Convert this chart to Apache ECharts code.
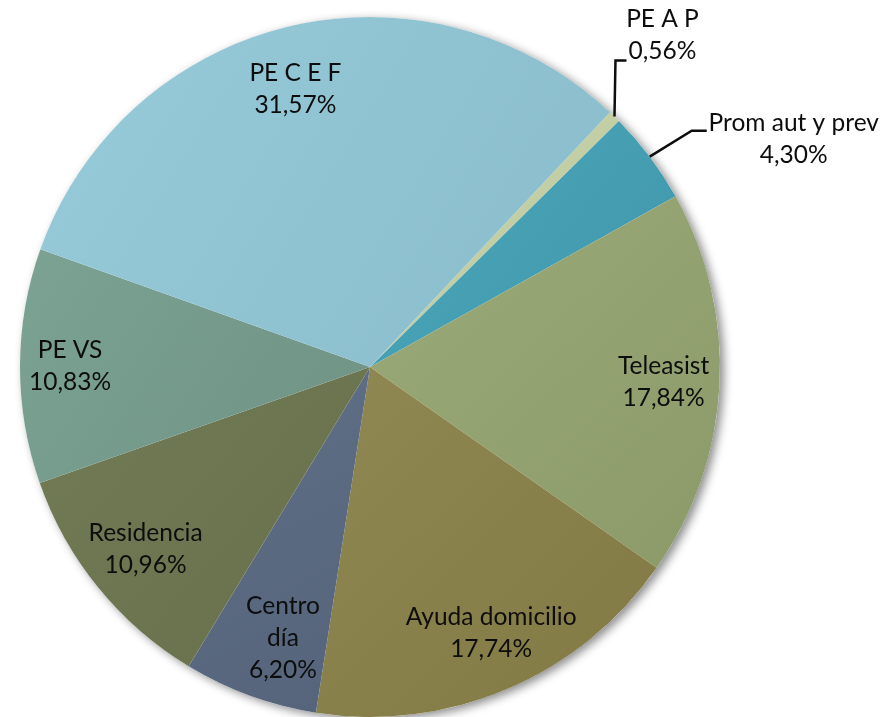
<!DOCTYPE html>
<html><head><meta charset="utf-8">
<script src="https://cdn.jsdelivr.net/npm/echarts@6/dist/echarts.min.js"></script>
<style>html,body{margin:0;padding:0;background:#fff}#c{width:885px;height:717px}</style>
</head><body><div id="c"></div>
<script>
const categories = ['PE A P','Prom aut y prev','Teleasist','Ayuda domicilio','Centro día','Residencia','PE VS','PE C E F'];
const values = [0.56, 4.30, 17.84, 17.74, 6.20, 10.96, 10.83, 31.57];
const labelNames = ['PE A P','Prom aut y prev','Teleasist','Ayuda domicilio','Centro\ndía','Residencia','PE VS','PE C E F'];
const colorsLight = ['#c9d4ab','#4ca8bb','#9aaa78','#8f8853','#5f6f85','#717b56','#7ba293','#97cbda'];
const colorsDark  = ['#bcc89e','#3f96aa','#8b9a68','#827944','#55647a','#67704b','#6f9385','#8abccb'];

const CENTER = [370, 367];
const R = 350;
const START = 46.7;
const labelShift = {2:[5,0], 3:[8,0], 4:[12,0], 6:[-11,0], 7:[-7,3]};

function fmt(v){ return v.toFixed(2).replace('.', ',') + '%'; }
function grad(i){
  return new echarts.graphic.LinearGradient(0,0,1,1,[
    {offset:0,color:colorsLight[i]},{offset:1,color:colorsDark[i]}]);
}

const mainData = categories.map((n,i)=>({name:n, value:values[i], itemStyle:{color:grad(i)}}));
const labelData = categories.map((n,i)=>{
  const d = {name:n, value:values[i]};
  if (i < 2) { d.label = {position:'outside'}; d.labelLine = {show:true}; }
  return d;
});

const chart = echarts.init(document.getElementById('c'), null, {renderer:'canvas'});
chart.setOption({
  animation:false,
  series:[
    {
      type:'pie', silent:true, center:CENTER, radius:R, z:1,
      data:[{value:1, itemStyle:{color:'#ffffff', shadowBlur:10, shadowColor:'rgba(0,0,0,0.45)', shadowOffsetX:4, shadowOffsetY:3}}],
      label:{show:false}, labelLine:{show:false}
    },
    {
      type:'pie', silent:true, center:CENTER, radius:R, startAngle:START, clockwise:true, z:2,
      data: mainData, label:{show:false}, labelLine:{show:false},
      itemStyle:{borderWidth:0}
    },
    {
      type:'pie', silent:true, center:CENTER, radius:[222, R], startAngle:START, clockwise:true, z:3,
      avoidLabelOverlap:false,
      data: labelData,
      itemStyle:{color:'rgba(0,0,0,0)', borderWidth:0},
      label:{
        show:true, position:'inside', color:'#0d0d0d',
        fontFamily:'Lato', fontSize:24.5, lineHeight:32, align:'center',
        formatter: p => labelNames[p.dataIndex] + '\n' + fmt(p.value)
      },
      labelLine:{show:false, smooth:false, length:20, length2:15, lineStyle:{color:'#0d0d0d', width:2.5}},
      labelLayout: function(p){
        const s = labelShift[p.dataIndex];
        if (s) return {dx:s[0], dy:s[1]};
        const pts = p.labelLinePoints;
        if (!pts || p.dataIndex > 1) return {};
        const a = pts[0];
        if (p.dataIndex === 0) {
          return {x:a[0]+48, y:a[1]-81, align:'center', verticalAlign:'middle',
            labelLinePoints:[a,[a[0]+1,a[1]-56],[a[0]+12,a[1]-56]]};
        }
        return {x:a[0]+144, y:a[1]-18, align:'center', verticalAlign:'middle',
          labelLinePoints:[a,[a[0]+42,a[1]-26],[a[0]+57,a[1]-26]]};
      }
    }
  ]
});
</script></body></html>
